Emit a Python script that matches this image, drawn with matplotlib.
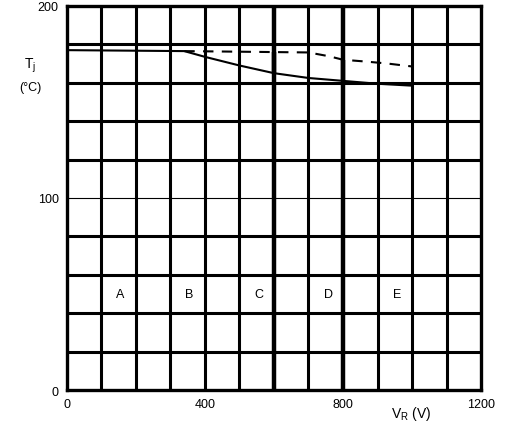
import matplotlib.pyplot as plt
import numpy as np

plt.rcParams['font.family'] = ['Liberation Sans', 'DejaVu Sans']

# solid curve
vr_solid = [0, 340, 400, 500, 600, 700, 800, 900, 1000]
tj_solid = [177, 176.5, 173.5, 169, 165, 162.5, 161, 159.5, 158.5]
# dashed curve
vr_dash = [340, 700, 760, 800, 870, 930, 1000]
tj_dash = [176.5, 175.8, 173.8, 172, 171, 170, 168.5]

region_labels = ['A', 'B', 'C', 'D', 'E']
region_x = [155, 355, 557, 757, 957]
region_y = 50

xticks = [0, 400, 800, 1200]
yticks = [0, 100, 200]

fig = plt.figure(figsize=(5.06, 4.31), dpi=100)
ax = fig.add_axes([0.1324, 0.0928, 0.8182, 0.891])

# grid
for x in range(100, 1200, 100):
    lw = 3.2 if x in (600, 800) else 2.2
    ax.axvline(x, color='black', lw=lw, zorder=1)
for y in range(20, 200, 20):
    lw = 0.8 if y == 100 else 2.2
    ax.axhline(y, color='black', lw=lw, zorder=1)

ax.plot(vr_solid, tj_solid, color='black', lw=1.5, zorder=3)
ax.plot(vr_dash, tj_dash, color='black', lw=1.5, ls=(0, (5, 4)), zorder=3)

# markers between curves at 600 V and 800 V
ax.vlines([600, 800], [165, 161], [175.8, 172], color='black', lw=3.2, zorder=3)

for lab, x in zip(region_labels, region_x):
    ax.text(x, region_y, lab, ha='center', va='center', fontsize=9)

ax.set_xlim(0, 1200)
ax.set_ylim(0, 200)
ax.set_xticks(xticks)
ax.set_yticks(yticks)
ax.tick_params(length=0, labelsize=9, pad=6)
for s in ax.spines.values():
    s.set_linewidth(2.4)

fig.text(30 / 506, 1 - 66 / 431, 'T$_\\mathregular{j}$', ha='center', va='center', fontsize=10)
fig.text(30 / 506, 1 - 88 / 431, '(°C)', ha='center', va='center', fontsize=9)
fig.text(411 / 506, 1 - 414 / 431, 'V$_\\mathregular{R}$ (V)', ha='center', va='center', fontsize=10)

fig.savefig('out.png', dpi=100)
